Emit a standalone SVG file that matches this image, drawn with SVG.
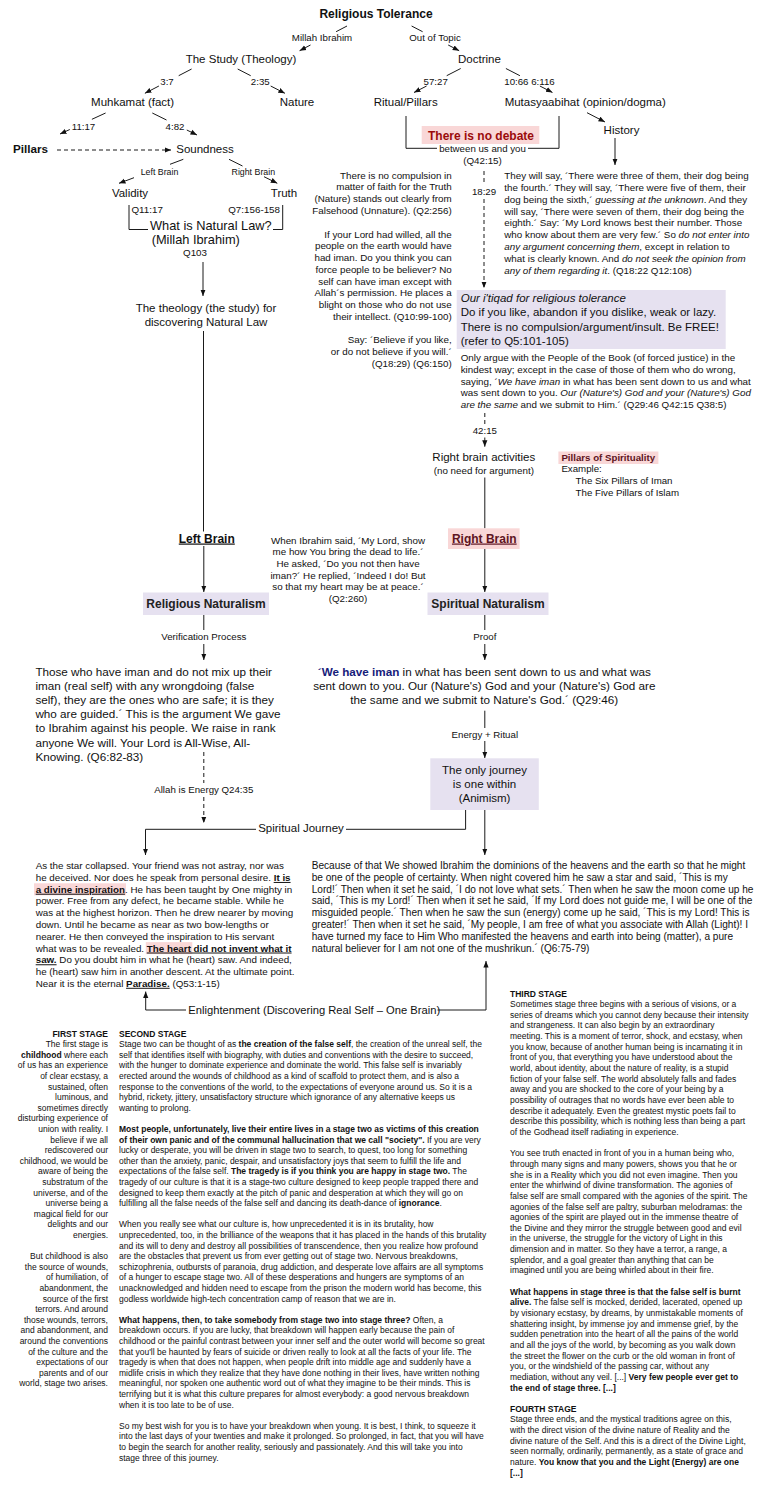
<svg xmlns="http://www.w3.org/2000/svg" width="770" height="1500" viewBox="0 0 770 1500">
<defs>
<marker id="ah" viewBox="0 0 8 8" refX="8" refY="4" markerWidth="6.5" markerHeight="6.5" markerUnits="userSpaceOnUse" orient="auto"><path d="M0,0.8 L8,4 L0,7.2 z" fill="#111"/></marker>
<style>
text{font-family:"Liberation Sans",Arial,Helvetica,sans-serif;fill:#111}
.n{font-size:11.5px}
.t12{font-size:12px}
.l{font-size:9.7px}
.lb{font-size:8.8px}
.p{font-size:9.8px}
.q{font-size:10.1px}
.m{font-size:11.7px}
.nl{font-size:12.8px}
.s{font-size:8.5px}
.b{font-weight:bold}
.i{font-style:italic}
.u{text-decoration:underline}
.c{text-anchor:middle}
.e{text-anchor:end}
.ln{fill:none;stroke:#1a1a1a;stroke-width:1}
.ar{marker-end:url(#ah)}
.da{stroke-dasharray:4 3}
.lav{fill:#e6e1f0}
.pink{fill:#f9d7d7}
.red{fill:#9b0b0b}
.mar{fill:#5e1422}
.navy{fill:#16207a}
</style>
</defs>
<rect width="770" height="1500" fill="#ffffff"/>

<g id="connectors">
<path class="ln ar" d="M347,26 L336.1,31.7 M310.5,45 L299.6,50.7"/>
<path class="ln ar" d="M411.6,26 L422.6,31.7 M448.2,45 L459.2,50.7"/>
<path class="ln ar" d="M191.6,69 L178.7,75.7 M158.9,86 L144.9,93.3"/>
<path class="ln ar" d="M237.7,69 L250.7,75.7 M270.7,86 L284.9,93.3"/>
<path class="ln ar" d="M460.7,68.5 L446.7,75.7 M426.6,86 L414,92.5"/>
<path class="ln ar" d="M505.9,68.5 L519.9,75.7 M539.9,86 L552.5,92.5"/>
<path class="ln ar" d="M105.6,113 L91.9,119.3 M69.8,129.5 L60,134"/>
<path class="ln ar" d="M152.3,113 L166.5,120 M186.8,130 L197,135"/>
<path class="ln ar" d="M587,112.7 L605,122"/>
<path class="ln ar" d="M615,138 V165"/>
<path class="ln" d="M406,116 V148.3 H437 M528,148.3 H559 V116"/>
<path class="ln ar da" d="M484,171 V185 M484,199 V288"/>
<path class="ln ar da" d="M57,150 H171"/>
<path class="ln ar" d="M183.3,159.3 L170,164.3 M134,177.7 L119,183.3"/>
<path class="ln ar" d="M229,159.3 L242.5,166 M264,176.7 L277.3,183.3"/>
<path class="ln" d="M129,205 V229.5 H148 M273,229.5 H282.7 V205"/>
<path class="ln ar" d="M203,262 V296"/>
<path class="ln" d="M203.5,331 V531.5"/>
<path class="ln" d="M484.8,477.5 V528.3"/>
<path class="ln ar da" d="M484.8,413 V426 M484.8,437.5 V446.7"/>
<path class="ln ar" d="M203.8,546 V592"/>
<path class="ln ar" d="M484.8,549 V592"/>
<path class="ln ar" d="M203.8,615 V630 M203.8,644 V660"/>
<path class="ln ar" d="M484.8,615 V630 M484.8,644 V660"/>
<path class="ln ar" d="M484.8,710.7 V728 M484.8,741 V758"/>
<path class="ln ar da" d="M203.8,752 V783 M203.8,797 V823"/>
<path class="ln ar" d="M465.6,810 V829.3 H346 M256,829.3 H145.5 V855"/>
<path class="ln ar" d="M484.8,810 V855"/>
<path class="ln ar" d="M186,1010 H145.7 V991.5"/>
<path class="ln ar" d="M437.5,1010 H486 V961"/>
</g>

<g id="edge-labels">
<text class="l c" x="322" y="41">Millah Ibrahim</text>
<text class="l c" x="435" y="41">Out of Topic</text>
<text class="l c" x="167" y="84.5">3:7</text>
<text class="l c" x="260.3" y="84.5">2:35</text>
<text class="l c" x="435.7" y="84.5">57:27</text>
<text class="l c" x="529.5" y="84.5">10:66 6:116</text>
<text class="l c" x="83.5" y="129.5">11:17</text>
<text class="l c" x="175" y="129.5">4:82</text>
<text class="l c" x="484" y="195">18:29</text>
<text class="lb c" x="159.5" y="175">Left Brain</text>
<text class="lb c" x="253.3" y="175">Right Brain</text>
<text class="l c" x="484.8" y="434">42:15</text>
<text class="l c" x="203.8" y="640">Verification Process</text>
<text class="l c" x="484.8" y="640">Proof</text>
<text class="l c" x="484.8" y="737.5">Energy + Ritual</text>
<text class="l c" x="203.8" y="793">Allah is Energy Q24:35</text>
<text class="n c" x="301" y="832">Spiritual Journey</text>
<text x="188.3" y="1014" style="font-size:11.2px">Enlightenment (Discovering Real Self – One Brain)</text>
</g>

<g id="node-religious-tolerance"><text class="t12 b c" x="376" y="18">Religious Tolerance</text></g>
<g id="node-study"><text class="n c" x="241" y="63">The Study (Theology)</text></g>
<g id="node-doctrine"><text class="n c" x="479.4" y="63">Doctrine</text></g>
<g id="node-muhkamat"><text class="n c" x="132.6" y="106">Muhkamat (fact)</text></g>
<g id="node-nature"><text class="n c" x="297" y="106">Nature</text></g>
<g id="node-ritual"><text class="n c" x="405.7" y="106">Ritual/Pillars</text></g>
<g id="node-mutasyaabihat"><text class="n c" x="585.2" y="106">Mutasyaabihat (opinion/dogma)</text></g>
<g id="node-history"><text class="n c" x="621.5" y="134">History</text></g>
<g id="node-no-debate">
<rect class="pink" x="421.7" y="126" width="117.6" height="18"/>
<text class="t12 b c red" x="481" y="140">There is no debate</text>
<text class="l c" x="482.5" y="152">between us and you</text>
<text class="p c" x="482.5" y="164">(Q42:15)</text>
</g>
<g id="node-pillars"><text class="t12 b" x="13" y="153" style="font-size:11.7px">Pillars</text></g>
<g id="node-soundness"><text class="n c" x="205" y="153">Soundness</text></g>
<g id="node-validity"><text class="n c" x="130" y="197">Validity</text></g>
<g id="node-truth"><text class="n c" x="284" y="197">Truth</text></g>
<g id="node-natural-law">
<text class="p" x="131.5" y="213">Q11:17</text>
<text class="p e" x="280" y="213">Q7:156-158</text>
<text class="nl" x="150" y="229.5">What is Natural Law?</text>
<text class="nl" x="151.7" y="243.5">(Millah Ibrahim)</text>
<text class="p c" x="195" y="255.5">Q103</text>
</g>
<g id="node-theology">
<text class="n c" x="206" y="311.5">The theology (the study) for</text>
<text class="n c" x="206" y="325.5">discovering Natural Law</text>
</g>

<g id="note-compulsion">
<text class="p e" x="451.7" y="178.5"><tspan>There is no compulsion in</tspan><tspan x="451.7" dy="11.9">matter of faith for the Truth</tspan><tspan x="451.7" dy="11.8">(Nature) stands out clearly from</tspan><tspan x="451.7" dy="11.8">Falsehood (Unnature). (Q2:256)</tspan><tspan x="451.7" dy="23.6">If your Lord had willed, all the</tspan><tspan x="451.7" dy="11.75">people on the earth would have</tspan><tspan x="451.7" dy="11.75">had iman. Do you think you can</tspan><tspan x="451.7" dy="11.75">force people to be believer? No</tspan><tspan x="451.7" dy="11.75">self can have iman except with</tspan><tspan x="451.7" dy="11.75">Allah´s permission. He places a</tspan><tspan x="451.7" dy="11.75">blight on those who do not use</tspan><tspan x="451.7" dy="11.75">their intellect. (Q10:99-100)</tspan><tspan x="451.7" dy="23.6">Say: ´Believe if you like,</tspan><tspan x="451.7" dy="11.75">or do not believe if you will.´</tspan><tspan x="451.7" dy="11.75">(Q18:29) (Q6:150)</tspan></text>
</g>

<g id="note-history">
<text class="p" x="504.3" y="179.2"><tspan>They will say, ´There were three of them, their dog being</tspan><tspan x="504.3" dy="11.8">the fourth.´ They will say, ´There were five of them, their</tspan><tspan x="504.3" dy="11.8">dog being the sixth,´ <tspan class="i">guessing at the unknown</tspan>. And they</tspan><tspan x="504.3" dy="11.8">will say, ´There were seven of them, their dog being the</tspan><tspan x="504.3" dy="11.8">eighth.´ Say: ´My Lord knows best their number. Those</tspan><tspan x="504.3" dy="11.8">who know about them are very few.´ So <tspan class="i">do not enter into</tspan></tspan><tspan x="504.3" dy="11.8"><tspan class="i">any argument concerning them</tspan>, except in relation to</tspan><tspan x="504.3" dy="11.8">what is clearly known. And <tspan class="i">do not seek the opinion from</tspan></tspan><tspan x="504.3" dy="11.8"><tspan class="i">any of them regarding it</tspan>. (Q18:22 Q12:108)</tspan></text>
</g>

<g id="node-itiqad">
<rect class="lav" x="456.7" y="290" width="269" height="59"/>
<text class="n" x="460.7" y="301.7"><tspan class="i">Our i'tiqad for religious tolerance</tspan><tspan x="460.7" dy="14.5">Do if you like, abandon if you dislike, weak or lazy.</tspan><tspan x="460.7" dy="14.3">There is no compulsion/argument/insult. Be FREE!</tspan><tspan x="460.7" dy="14.2">(refer to Q5:101-105)</tspan></text>
</g>

<g id="note-argue">
<text class="p" x="460.7" y="361.2"><tspan>Only argue with the People of the Book (of forced justice) in the</tspan><tspan x="460.7" dy="11.7">kindest way; except in the case of those of them who do wrong,</tspan><tspan x="460.7" dy="11.7">saying, ´<tspan class="i">We have iman</tspan> in what has been sent down to us and what</tspan><tspan x="460.7" dy="11.7">was sent down to you. <tspan class="i">Our (Nature's) God and your (Nature's) God</tspan></tspan><tspan x="460.7" dy="11.7"><tspan class="i">are the same</tspan> and we submit to Him.´ (Q29:46 Q42:15 Q38:5)</tspan></text>
</g>

<g id="node-right-brain-activities">
<text class="n c" x="483.8" y="461">Right brain activities</text>
<text class="p c" x="483.8" y="473.5">(no need for argument)</text>
</g>

<g id="node-pillars-spirituality">
<rect class="pink" x="558.4" y="451.5" width="100" height="12.5"/>
<text class="l b mar" x="561.4" y="460.6">Pillars of Spirituality</text>
<text class="l" x="561.4" y="472.4">Example:</text>
<text class="l" x="575.6" y="484.2">The Six Pillars of Iman</text>
<text class="l" x="575.6" y="496">The Five Pillars of Islam</text>
</g>

<g id="node-left-brain"><text class="t12 b u c" x="206.8" y="542.5">Left Brain</text></g>
<g id="node-right-brain">
<rect class="pink" x="448" y="528.3" width="71.6" height="20.7"/>
<text class="t12 b u c mar" x="484.3" y="542.5">Right Brain</text>
</g>

<g id="note-ibrahim">
<text class="p c" x="348" y="543.5"><tspan>When Ibrahim said, ´My Lord, show</tspan><tspan x="348" dy="11.7">me how You bring the dead to life.´</tspan><tspan x="348" dy="11.7">He asked, ´Do you not then have</tspan><tspan x="348" dy="11.7">iman?´ He replied, ´Indeed I do! But</tspan><tspan x="348" dy="11.7">so that my heart may be at peace.´</tspan><tspan x="348" dy="11.7">(Q2:260)</tspan></text>
</g>

<g id="node-religious-naturalism">
<rect class="lav" x="143" y="592.5" width="126" height="22.5"/>
<text class="t12 b c" x="206" y="608.3" style="fill:#222">Religious Naturalism</text>
</g>
<g id="node-spiritual-naturalism">
<rect class="lav" x="427.5" y="592.5" width="121" height="22.5"/>
<text class="t12 b c" x="488" y="608.3" style="fill:#222">Spiritual Naturalism</text>
</g>

<g id="node-guided">
<text class="m" x="35.4" y="675.7"><tspan>Those who have iman and do not mix up their</tspan><tspan x="35.4" dy="14.17">iman (real self) with any wrongdoing (false</tspan><tspan x="35.4" dy="14.17">self), they are the ones who are safe; it is they</tspan><tspan x="35.4" dy="14.17">who are guided.´ This is the argument We gave</tspan><tspan x="35.4" dy="14.17">to Ibrahim against his people. We raise in rank</tspan><tspan x="35.4" dy="14.17">anyone We will. Your Lord is All-Wise, All-</tspan><tspan x="35.4" dy="14.17">Knowing. (Q6:82-83)</tspan></text>
</g>

<g id="node-we-have-iman">
<text class="m c" x="484.3" y="675.7"><tspan><tspan class="b navy">´We have iman</tspan> in what has been sent down to us and what was</tspan><tspan x="484.3" dy="14.17">sent down to you. Our (Nature's) God and your (Nature's) God are</tspan><tspan x="484.3" dy="14.17">the same and we submit to Nature's God.´ (Q29:46)</tspan></text>
</g>

<g id="node-animism">
<rect class="lav" x="430.3" y="758.3" width="108.5" height="51.7"/>
<text class="n c" x="484.5" y="774"><tspan>The only journey</tspan><tspan x="484.5" dy="14.2">is one within</tspan><tspan x="484.5" dy="14.1">(Animism)</tspan></text>
</g>

<g id="node-star">
<rect class="pink" x="34" y="883.3" width="92" height="12"/>
<rect class="pink" x="145.8" y="942.1" width="46.5" height="12"/>
<text class="p" x="35.7" y="869.2"><tspan>As the star collapsed. Your friend was not astray, nor was</tspan><tspan x="35.7" dy="11.76">he deceived. Nor does he speak from personal desire. <tspan class="b u">It is</tspan></tspan><tspan x="35.7" dy="11.76"><tspan class="b u">a divine inspiration</tspan>. He has been taught by One mighty in</tspan><tspan x="35.7" dy="11.76">power. Free from any defect, he became stable. While he</tspan><tspan x="35.7" dy="11.76">was at the highest horizon. Then he drew nearer by moving</tspan><tspan x="35.7" dy="11.76">down. Until he became as near as two bow-lengths or</tspan><tspan x="35.7" dy="11.76">nearer. He then conveyed the inspiration to His servant</tspan><tspan x="35.7" dy="11.76">what was to be revealed. <tspan class="b u">The heart did not invent what it</tspan></tspan><tspan x="35.7" dy="11.76"><tspan class="b u">saw.</tspan> Do you doubt him in what he (heart) saw. And indeed,</tspan><tspan x="35.7" dy="11.76">he (heart) saw him in another descent. At the ultimate point.</tspan><tspan x="35.7" dy="11.76">Near it is the eternal <tspan class="b u">Paradise.</tspan> (Q53:1-15)</tspan></text>
</g>

<g id="node-ibrahim-stars">
<text class="q" x="311.7" y="869.2"><tspan>Because of that We showed Ibrahim the dominions of the heavens and the earth so that he might</tspan><tspan x="311.7" dy="11.76">be one of the people of certainty. When night covered him he saw a star and said, ´This is my</tspan><tspan x="311.7" dy="11.76">Lord!´ Then when it set he said, ´I do not love what sets.´ Then when he saw the moon come up he</tspan><tspan x="311.7" dy="11.76">said, ´This is my Lord!´ Then when it set he said, ´If my Lord does not guide me, I will be one of the</tspan><tspan x="311.7" dy="11.76">misguided people.´ Then when he saw the sun (energy) come up he said, ´This is my Lord! This is</tspan><tspan x="311.7" dy="11.76">greater!´ Then when it set he said, ´My people, I am free of what you associate with Allah (Light)! I</tspan><tspan x="311.7" dy="11.76">have turned my face to Him Who manifested the heavens and earth into being (matter), a pure</tspan><tspan x="311.7" dy="11.76">natural believer for I am not one of the mushrikun.´ (Q6:75-79)</tspan></text>
</g>

<g id="first-stage">
<text class="s e" x="108" y="1036.5"><tspan class="b">FIRST STAGE</tspan><tspan x="108" dy="10.6">The first stage is</tspan><tspan x="108" dy="10.6"><tspan class="b">childhood</tspan> where each</tspan><tspan x="108" dy="10.6">of us has an experience</tspan><tspan x="108" dy="10.6">of clear ecstasy, a</tspan><tspan x="108" dy="10.6">sustained, often</tspan><tspan x="108" dy="10.6">luminous, and</tspan><tspan x="108" dy="10.6">sometimes directly</tspan><tspan x="108" dy="10.6">disturbing experience of</tspan><tspan x="108" dy="10.6">union with reality. I</tspan><tspan x="108" dy="10.6">believe if we all</tspan><tspan x="108" dy="10.6">rediscovered our</tspan><tspan x="108" dy="10.6">childhood, we would be</tspan><tspan x="108" dy="10.6">aware of being the</tspan><tspan x="108" dy="10.6">substratum of the</tspan><tspan x="108" dy="10.6">universe, and of the</tspan><tspan x="108" dy="10.6">universe being a</tspan><tspan x="108" dy="10.6">magical field for our</tspan><tspan x="108" dy="10.6">delights and our</tspan><tspan x="108" dy="10.6">energies.</tspan><tspan x="108" dy="21.2">But childhood is also</tspan><tspan x="108" dy="10.6">the source of wounds,</tspan><tspan x="108" dy="10.6">of humiliation, of</tspan><tspan x="108" dy="10.6">abandonment, the</tspan><tspan x="108" dy="10.6">source of the first</tspan><tspan x="108" dy="10.6">terrors. And around</tspan><tspan x="108" dy="10.6">those wounds, terrors,</tspan><tspan x="108" dy="10.6">and abandonment, and</tspan><tspan x="108" dy="10.6">around the conventions</tspan><tspan x="108" dy="10.6">of the culture and the</tspan><tspan x="108" dy="10.6">expectations of our</tspan><tspan x="108" dy="10.6">parents and of our</tspan><tspan x="108" dy="10.6">world, stage two arises.</tspan></text>
</g>

<g id="second-stage">
<text class="s" x="119" y="1036.5"><tspan class="b">SECOND STAGE</tspan><tspan x="119" dy="10.6">Stage two can be thought of as <tspan class="b">the creation of the false self</tspan>, the creation of the unreal self, the</tspan><tspan x="119" dy="10.6">self that identifies itself with biography, with duties and conventions with the desire to succeed,</tspan><tspan x="119" dy="10.6">with the hunger to dominate experience and dominate the world. This false self is invariably</tspan><tspan x="119" dy="10.6">erected around the wounds of childhood as a kind of scaffold to protect them, and is also a</tspan><tspan x="119" dy="10.6">response to the conventions of the world, to the expectations of everyone around us. So it is a</tspan><tspan x="119" dy="10.6">hybrid, rickety, jittery, unsatisfactory structure which ignorance of any alternative keeps us</tspan><tspan x="119" dy="10.6">wanting to prolong.</tspan><tspan x="119" dy="21.2" class="b">Most people, unfortunately, live their entire lives in a stage two as victims of this creation</tspan><tspan x="119" dy="10.6"><tspan class="b">of their own panic and of the communal hallucination that we call "society".</tspan> If you are very</tspan><tspan x="119" dy="10.6">lucky or desperate, you will be driven in stage two to search, to quest, too long for something</tspan><tspan x="119" dy="10.6">other than the anxiety, panic, despair, and unsatisfactory joys that seem to fulfill the life and</tspan><tspan x="119" dy="10.6">expectations of the false self. <tspan class="b">The tragedy is if you think you are happy in stage two.</tspan> The</tspan><tspan x="119" dy="10.6">tragedy of our culture is that it is a stage-two culture designed to keep people trapped there and</tspan><tspan x="119" dy="10.6">designed to keep them exactly at the pitch of panic and desperation at which they will go on</tspan><tspan x="119" dy="10.6">fulfilling all the false needs of the false self and dancing its death-dance of <tspan class="b">ignorance</tspan>.</tspan><tspan x="119" dy="21.2">When you really see what our culture is, how unprecedented it is in its brutality, how</tspan><tspan x="119" dy="10.6">unprecedented, too, in the brilliance of the weapons that it has placed in the hands of this brutality</tspan><tspan x="119" dy="10.6">and its will to deny and destroy all possibilities of transcendence, then you realize how profound</tspan><tspan x="119" dy="10.6">are the obstacles that prevent us from ever getting out of stage two. Nervous breakdowns,</tspan><tspan x="119" dy="10.6">schizophrenia, outbursts of paranoia, drug addiction, and desperate love affairs are all symptoms</tspan><tspan x="119" dy="10.6">of a hunger to escape stage two. All of these desperations and hungers are symptoms of an</tspan><tspan x="119" dy="10.6">unacknowledged and hidden need to escape from the prison the modern world has become, this</tspan><tspan x="119" dy="10.6">godless worldwide high-tech concentration camp of reason that we are in.</tspan><tspan x="119" dy="21.2"><tspan class="b">What happens, then, to take somebody from stage two into stage three?</tspan> Often, a</tspan><tspan x="119" dy="10.6">breakdown occurs. If you are lucky, that breakdown will happen early because the pain of</tspan><tspan x="119" dy="10.6">childhood or the painful contrast between your inner self and the outer world will become so great</tspan><tspan x="119" dy="10.6">that you'll be haunted by fears of suicide or driven really to look at all the facts of your life. The</tspan><tspan x="119" dy="10.6">tragedy is when that does not happen, when people drift into middle age and suddenly have a</tspan><tspan x="119" dy="10.6">midlife crisis in which they realize that they have done nothing in their lives, have written nothing</tspan><tspan x="119" dy="10.6">meaningful, nor spoken one authentic word out of what they imagine to be their minds. This is</tspan><tspan x="119" dy="10.6">terrifying but it is what this culture prepares for almost everybody: a good nervous breakdown</tspan><tspan x="119" dy="10.6">when it is too late to be of use.</tspan><tspan x="119" dy="21.2">So my best wish for you is to have your breakdown when young. It is best, I think, to squeeze it</tspan><tspan x="119" dy="10.6">into the last days of your twenties and make it prolonged. So prolonged, in fact, that you will have</tspan><tspan x="119" dy="10.6">to begin the search for another reality, seriously and passionately. And this will take you into</tspan><tspan x="119" dy="10.6">stage three of this journey.</tspan></text>
</g>

<g id="third-stage">
<text class="s" x="510" y="996.5"><tspan class="b">THIRD STAGE</tspan><tspan x="510" dy="10.65">Sometimes stage three begins with a serious of visions, or a</tspan><tspan x="510" dy="10.65">series of dreams which you cannot deny because their intensity</tspan><tspan x="510" dy="10.65">and strangeness. It can also begin by an extraordinary</tspan><tspan x="510" dy="10.65">meeting. This is a moment of terror, shock, and ecstasy, when</tspan><tspan x="510" dy="10.65">you know, because of another human being is incarnating it in</tspan><tspan x="510" dy="10.65">front of you, that everything you have understood about the</tspan><tspan x="510" dy="10.65">world, about identity, about the nature of reality, is a stupid</tspan><tspan x="510" dy="10.65">fiction of your false self. The world absolutely falls and fades</tspan><tspan x="510" dy="10.65">away and you are shocked to the core of your being by a</tspan><tspan x="510" dy="10.65">possibility of outrages that no words have ever been able to</tspan><tspan x="510" dy="10.65">describe it adequately. Even the greatest mystic poets fail to</tspan><tspan x="510" dy="10.65">describe this possibility, which is nothing less than being a part</tspan><tspan x="510" dy="10.65">of the Godhead itself radiating in experience.</tspan><tspan x="510" dy="21.3">You see truth enacted in front of you in a human being who,</tspan><tspan x="510" dy="10.65">through many signs and many powers, shows you that he or</tspan><tspan x="510" dy="10.65">she is in a Reality which you did not even imagine. Then you</tspan><tspan x="510" dy="10.65">enter the whirlwind of divine transformation. The agonies of</tspan><tspan x="510" dy="10.65">false self are small compared with the agonies of the spirit. The</tspan><tspan x="510" dy="10.65">agonies of the false self are paltry, suburban melodramas: the</tspan><tspan x="510" dy="10.65">agonies of the spirit are played out in the immense theatre of</tspan><tspan x="510" dy="10.65">the Divine and they mirror the struggle between good and evil</tspan><tspan x="510" dy="10.65">in the universe, the struggle for the victory of Light in this</tspan><tspan x="510" dy="10.65">dimension and in matter. So they have a terror, a range, a</tspan><tspan x="510" dy="10.65">splendor, and a goal greater than anything that can be</tspan><tspan x="510" dy="10.65">imagined until you are being whirled about in their fire.</tspan><tspan x="510" dy="21.3" class="b">What happens in stage three is that the false self is burnt</tspan><tspan x="510" dy="10.65"><tspan class="b">alive.</tspan> The false self is mocked, derided, lacerated, opened up</tspan><tspan x="510" dy="10.65">by visionary ecstasy, by dreams, by unmistakable moments of</tspan><tspan x="510" dy="10.65">shattering insight, by immense joy and immense grief, by the</tspan><tspan x="510" dy="10.65">sudden penetration into the heart of all the pains of the world</tspan><tspan x="510" dy="10.65">and all the joys of the world, by becoming as you walk down</tspan><tspan x="510" dy="10.65">the street the flower on the curb or the old woman in front of</tspan><tspan x="510" dy="10.65">you, or the windshield of the passing car, without any</tspan><tspan x="510" dy="10.65">mediation, without any veil. [...] <tspan class="b">Very few people ever get to</tspan></tspan><tspan x="510" dy="10.65" class="b">the end of stage three. [...]</tspan><tspan x="510" dy="21.3" class="b">FOURTH STAGE</tspan><tspan x="510" dy="10.65">Stage three ends, and the mystical traditions agree on this,</tspan><tspan x="510" dy="10.65">with the direct vision of the divine nature of Reality and the</tspan><tspan x="510" dy="10.65">divine nature of the Self. And this is a direct of the Divine Light,</tspan><tspan x="510" dy="10.65">seen normally, ordinarily, permanently, as a state of grace and</tspan><tspan x="510" dy="10.65">nature. <tspan class="b">You know that you and the Light (Energy) are one</tspan></tspan><tspan x="510" dy="10.65" class="b">[...]</tspan></text>
</g>
</svg>
